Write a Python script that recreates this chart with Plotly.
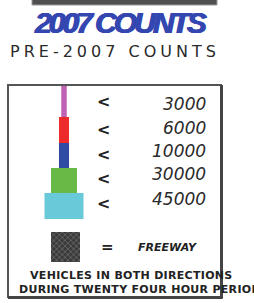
import plotly.graph_objects as go

# ---- data ----
title_main = "2007 COUNTS"
title_sub = "PRE-2007 COUNTS"
thresholds = [3000, 6000, 10000, 30000, 45000]
band_colors = ["#bf62b4", "#ee2b2b", "#2f4ba3", "#67ba45", "#68c9d9"]
freeway_label = "FREEWAY"
footnote = ["VEHICLES IN BOTH DIRECTIONS", "DURING TWENTY FOUR HOUR PERIOD"]

W, H = 254, 303
fig = go.Figure()

# ---- layout geometry (pixel space) ----
cx = 64
band_w = [5.5, 10, 10, 26, 39]
band_top = [86, 117, 143, 168, 193]
band_bot = [117, 143, 168, 193, 219]
label_y = [104, 128, 151, 174, 199]
lt_y = [101, 129, 154, 178, 203]

shapes = []
# top gray bar
shapes.append(dict(type="rect", x0=32, x1=217, y0=-1, y1=5, fillcolor="#505050",
                   line=dict(color="#9a9a9a", width=1), layer="below"))
# legend box
shapes.append(dict(type="rect", x0=8, x1=221, y0=85, y1=297,
                   line=dict(color="#555555", width=2), fillcolor="rgba(0,0,0,0)"))
shapes.append(dict(type="line", x0=221.5, x1=221.5, y0=85, y1=298.5,
                   line=dict(color="#444444", width=3)))
shapes.append(dict(type="line", x0=8, x1=222.5, y0=297.5, y1=297.5,
                   line=dict(color="#444444", width=3)))

for i, v in enumerate(thresholds):
    shapes.append(dict(type="rect", x0=cx - band_w[i] / 2, x1=cx + band_w[i] / 2,
                       y0=band_top[i], y1=band_bot[i], fillcolor=band_colors[i],
                       line=dict(width=0)))

# freeway hatched square
fig.add_trace(go.Bar(x=[65.5], y=[30], base=[232], width=[29],
                     marker=dict(color="#3a3a3a", line=dict(width=0),
                                 pattern=dict(shape="x", bgcolor="#3a3a3a",
                                              fgcolor="#b0b0b0", size=4, solidity=0.3)),
                     hoverinfo="skip", showlegend=False))

ann = []
ann.append(dict(x=120, y=22,
                text='<span style="letter-spacing:-3px"><b><i>' + title_main + "</i></b></span>",
                font=dict(family="Liberation Sans", size=30, color="#3446b0",
                          shadow="0.8px 0 0 #3446b0, -0.6px 0 0 #3446b0")))
ann.append(dict(x=115, y=51, text='<span style="letter-spacing:4px">' + title_sub + "</span>",
                font=dict(family="DejaVu Sans", size=16, color="#2a2a2a")))
for i, v in enumerate(thresholds):
    ann.append(dict(x=103, y=lt_y[i], text="<b><</b>",
                    font=dict(family="DejaVu Sans", size=16, color="#222222")))
    ann.append(dict(x=208, y=label_y[i], text="<i>" + str(v) + "</i>", xanchor="right",
                    font=dict(family="DejaVu Sans", size=17, color="#2a2a2a")))
ann.append(dict(x=107, y=247, text="<b>=</b>",
                font=dict(family="DejaVu Sans", size=15, color="#222222")))
ann.append(dict(x=136, y=247, text="<b><i>" + freeway_label + "</i></b>", xanchor="left",
                font=dict(family="DejaVu Sans", size=11, color="#222222")))
ann.append(dict(x=28, y=275,
                text='<span style="letter-spacing:0.3px"><b>' + footnote[0] + "</b></span>",
                xanchor="left", font=dict(family="DejaVu Sans", size=11, color="#222222")))
ann.append(dict(x=17, y=289,
                text='<span style="letter-spacing:0.3px"><b>' + footnote[1] + "</b></span>",
                xanchor="left", font=dict(family="DejaVu Sans", size=11, color="#222222")))

for a in ann:
    a.setdefault("xanchor", "center")
    a["yanchor"] = "middle"
    a["showarrow"] = False
    a["xref"] = "x"
    a["yref"] = "y"

fig.update_layout(
    width=W, height=H, margin=dict(l=0, r=0, t=0, b=0),
    paper_bgcolor="white", plot_bgcolor="white",
    xaxis=dict(range=[0, W], visible=False, fixedrange=True),
    yaxis=dict(range=[H, 0], visible=False, fixedrange=True),
    shapes=shapes, annotations=ann, showlegend=False, bargap=0,
)
fig.write_html("out.html", config={"displayModeBar": False},
               post_script="document.body.style.margin='0';document.body.style.overflow='hidden';")
